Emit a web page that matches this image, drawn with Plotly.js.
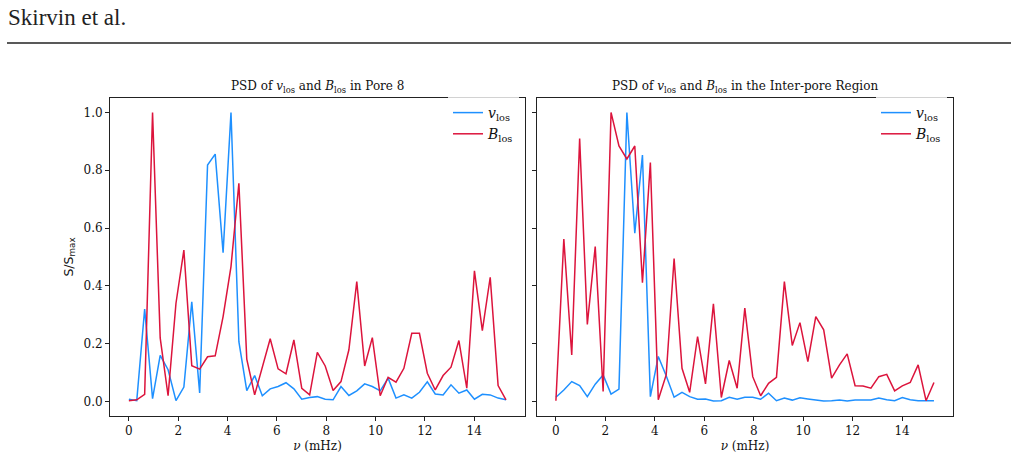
<!DOCTYPE html>
<html>
<head>
<meta charset="utf-8">
<script src="https://cdn.plot.ly/plotly-3.0.1.min.js"></script>
<style>
  html, body { margin: 0; padding: 0; background: #fff; }
  #chart { width: 1018px; height: 458px; }
</style>
</head>
<body>
<div id="chart"></div>
<script>
// Frequency bins (mHz)
const freq = [0.00, 0.32, 0.64, 0.96, 1.27, 1.59, 1.91, 2.23, 2.55, 2.87,
              3.19, 3.50, 3.82, 4.14, 4.46, 4.78, 5.10, 5.41, 5.73, 6.05,
              6.37, 6.69, 7.01, 7.33, 7.64, 7.96, 8.28, 8.60, 8.92, 9.24,
              9.56, 9.87, 10.19, 10.51, 10.83, 11.15, 11.47, 11.78, 12.10, 12.42,
              12.74, 13.06, 13.38, 13.70, 14.01, 14.33, 14.65, 14.97, 15.29];

// Normalised power spectra, Pore 8
const poreV = [0.008, 0.003, 0.32, 0.01, 0.16, 0.11, 0.003, 0.05, 0.345, 0.03,
               0.818, 0.856, 0.515, 1.0, 0.207, 0.038, 0.09, 0.02, 0.044, 0.052,
               0.065, 0.044, 0.008, 0.014, 0.017, 0.008, 0.006, 0.052, 0.021, 0.037,
               0.061, 0.052, 0.037, 0.081, 0.012, 0.023, 0.012, 0.032, 0.068, 0.026,
               0.023, 0.058, 0.029, 0.04, 0.008, 0.025, 0.023, 0.012, 0.006];
const poreB = [0.003, 0.006, 0.025, 1.0, 0.22, 0.02, 0.34, 0.524, 0.124, 0.112,
               0.155, 0.158, 0.294, 0.467, 0.755, 0.147, 0.023, 0.121, 0.217, 0.113,
               0.096, 0.213, 0.046, 0.023, 0.17, 0.123, 0.038, 0.069, 0.179, 0.415,
               0.123, 0.221, 0.02, 0.084, 0.067, 0.115, 0.236, 0.236, 0.098, 0.04,
               0.09, 0.119, 0.211, 0.046, 0.452, 0.245, 0.43, 0.055, 0.006];

// Normalised power spectra, inter-pore region
const interV = [0.015, 0.04, 0.069, 0.055, 0.017, 0.06, 0.092, 0.026, 0.043, 1.0,
                0.582, 0.853, 0.017, 0.156, 0.089, 0.015, 0.032, 0.017, 0.008, 0.009,
                0.002, 0.003, 0.015, 0.008, 0.015, 0.015, 0.008, 0.029, 0.003, 0.012,
                0.005, 0.013, 0.009, 0.005, 0.002, 0.003, 0.005, 0.002, 0.005, 0.005,
                0.005, 0.012, 0.006, 0.003, 0.014, 0.006, 0.003, 0.003, 0.003];
const interB = [0.003, 0.562, 0.161, 0.91, 0.267, 0.536, 0.035, 1.0, 0.884, 0.839,
                0.884, 0.411, 0.827, 0.006, 0.092, 0.495, 0.115, 0.032, 0.225, 0.061,
                0.338, 0.014, 0.142, 0.046, 0.323, 0.086, 0.02, 0.063, 0.084, 0.415,
                0.194, 0.273, 0.138, 0.294, 0.248, 0.081, 0.127, 0.165, 0.055, 0.054,
                0.046, 0.086, 0.094, 0.037, 0.054, 0.066, 0.127, 0.003, 0.066];

const xTicks = [0, 2, 4, 6, 8, 10, 12, 14];
const yTicks = [0.0, 0.2, 0.4, 0.6, 0.8, 1.0];

const panelTitles = [
  'PSD of <i>v</i><sub>los</sub> and <i>B</i><sub>los</sub> in Pore 8',
  'PSD of <i>v</i><sub>los</sub> and <i>B</i><sub>los</sub> in the Inter-pore Region'
];
const vName = '<i>v</i><sub>los</sub>';
const bName = '<i>B</i><sub>los</sub>';

const BLUE = '#1e90ff';
const RED = '#dc143c';
const FONT = 'DejaVu Serif, serif';
const W = 1018, H = 458;

function line(x, y, name, color, xa, ya, leg) {
  return {
    type: 'scatter', mode: 'lines', x: x, y: y, name: name,
    xaxis: xa, yaxis: ya, legend: leg,
    line: { color: color, width: 1.5 },
    hoverinfo: 'skip'
  };
}

const traces = [
  line(freq, poreV, vName, BLUE, 'x', 'y', 'legend'),
  line(freq, poreB, bName, RED, 'x', 'y', 'legend'),
  line(freq, interV, vName, BLUE, 'x2', 'y2', 'legend2'),
  line(freq, interB, bName, RED, 'x2', 'y2', 'legend2')
];

function xAxis(domain, anchor) {
  return {
    domain: domain, anchor: anchor,
    range: [-0.765, 16.06],
    tickmode: 'array', tickvals: xTicks, ticktext: xTicks.map(String),
    ticks: 'outside', ticklen: 4, tickwidth: 1, tickcolor: '#222',
    showline: true, linecolor: '#222', linewidth: 1, mirror: true,
    showgrid: false, zeroline: false,
    tickfont: { family: FONT, size: 12, color: '#111' },
    title: { text: '<i>ν</i> (mHz)', font: { family: FONT, size: 12, color: '#111' }, standoff: 4 }
  };
}
function yAxis(domain, anchor, labels) {
  return {
    domain: domain, anchor: anchor,
    range: [-0.05, 1.05],
    tickmode: 'array', tickvals: yTicks,
    ticktext: yTicks.map(v => v.toFixed(1)),
    showticklabels: labels,
    ticks: 'outside', ticklen: 4, tickwidth: 1, tickcolor: '#222',
    showline: true, linecolor: '#222', linewidth: 1, mirror: true,
    showgrid: false, zeroline: false,
    tickfont: { family: FONT, size: 12, color: '#111' }
  };
}

const yDom = [1 - 416 / H, 1 - 98 / H];
const xDom1 = [110 / W, 525 / W];
const xDom2 = [537 / W, 953 / W];

function legendAt(xRight) {
  return {
    x: xRight, xanchor: 'right', y: 1 - 97 / H, yanchor: 'top',
    bgcolor: 'rgba(255,255,255,0.8)', borderwidth: 0,
    font: { family: FONT, size: 14, color: '#111' },
    itemwidth: 30, tracegroupgap: 0
  };
}

const layout = {
  width: W, height: H,
  margin: { l: 0, r: 0, t: 0, b: 0 },
  paper_bgcolor: '#fff', plot_bgcolor: '#fff',
  showlegend: true,
  xaxis: xAxis(xDom1, 'y'),
  yaxis: Object.assign(yAxis(yDom, 'x', true), {
    title: { text: 'S/S<sub>max</sub>', font: { family: 'DejaVu Sans, sans-serif', size: 12.5, color: '#111' }, standoff: 7 }
  }),
  xaxis2: xAxis(xDom2, 'y2'),
  yaxis2: yAxis(yDom, 'x2', false),
  legend: legendAt(xDom1[1] - 6 / W),
  legend2: legendAt(xDom2[1] - 6 / W),
  annotations: [
    { text: 'Skirvin et al.', xref: 'paper', yref: 'paper', x: 6 / W, y: 1 - 3 / H,
      xanchor: 'left', yanchor: 'top', showarrow: false,
      font: { family: 'Liberation Serif, serif', size: 23, color: '#222' } },
    { text: panelTitles[0], xref: 'paper', yref: 'paper', x: (xDom1[0] + xDom1[1]) / 2, y: 1 - 97.5 / H,
      xanchor: 'center', yanchor: 'bottom', showarrow: false,
      font: { family: FONT, size: 12, color: '#111' } },
    { text: panelTitles[1], xref: 'paper', yref: 'paper', x: (xDom2[0] + xDom2[1]) / 2, y: 1 - 97.5 / H,
      xanchor: 'center', yanchor: 'bottom', showarrow: false,
      font: { family: FONT, size: 12, color: '#111' } }
  ],
  shapes: [
    { type: 'line', xref: 'paper', yref: 'paper', x0: 7 / W, x1: 1011 / W, y0: 1 - 43 / H, y1: 1 - 43 / H,
      line: { color: '#222', width: 1.3 } }
  ]
};

Plotly.newPlot('chart', traces, layout, { staticPlot: true, displayModeBar: false });
</script>
</body>
</html>
